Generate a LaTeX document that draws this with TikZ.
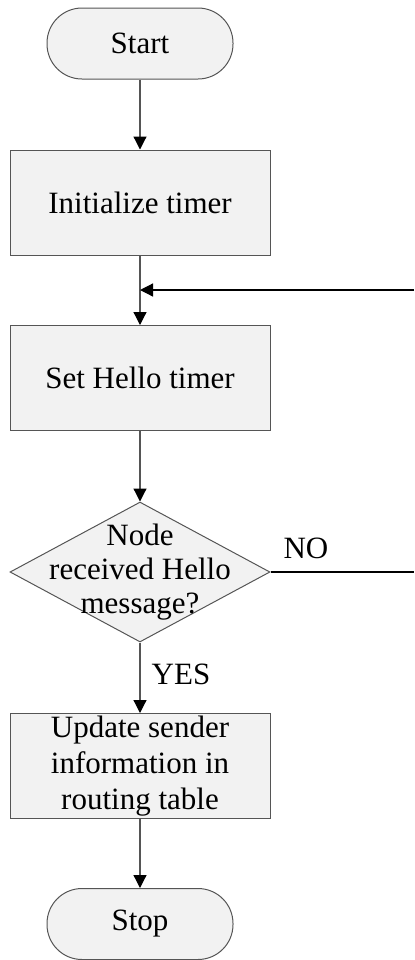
\documentclass[tikz,border=0pt]{standalone}
\usepackage{fontspec}
\setmainfont{Liberation Serif}
\usetikzlibrary{calc,arrows.meta}
\usetikzlibrary{shapes.geometric}

\definecolor{boxfill}{RGB}{242,242,242}
\definecolor{edge}{RGB}{85,85,85}

\begin{document}
\begin{tikzpicture}[x=0.5pt,y=-0.5pt,font=\fontsize{15.5}{18}\selectfont,
  term/.style={draw=edge,line width=0.5pt,fill=boxfill,rounded corners=17.5pt,minimum width=93pt,minimum height=35.5pt,inner sep=0pt},
  proc/.style={draw=edge,line width=0.5pt,fill=boxfill,minimum width=130pt,minimum height=52.5pt,inner sep=0pt,align=center},
  decision/.style={draw=edge,line width=0.5pt,fill=boxfill,diamond,minimum width=130pt,minimum height=70pt,inner sep=0pt},
  flow/.style={draw=edge,line width=0.6pt,-{Triangle[width=6.5pt,length=6.5pt,color=black]}}]
\useasboundingbox (0,0) rectangle (414,960);
\node[term] (start) at (140,43.5) {Start};
\node[proc] (init) at (140,202.5) {Initialize timer};
\node[proc] (hello) at (140,378) {Set Hello timer};
\node[decision,label={[align=center,font=\fontsize{15.5}{17}\selectfont]center:Node\\received Hello\\message?}] (chk) at (140,572) {};
\node[proc] (upd) at (140,766) {Update sender\\information in\\routing table};
\node[term] (stop) at (140,924) {Stop};
\coordinate (back) at (414,290); \coordinate (noend) at (414,572);
\coordinate (join) at (back -| init);
\draw[flow] (start) -- (init); \draw[flow] (init) -- (hello);
\draw[flow] (hello) -- (chk); \draw[flow] (chk) -- (upd); \draw[flow] (upd) -- (stop);
\draw[flow,draw=black] (back) -- (join);
\draw[black,line width=0.6pt] (chk.east) -- (noend);
\node (no) at (306,548) {NO}; \node (yes) at (181,674) {YES};
\end{tikzpicture}
\end{document}
